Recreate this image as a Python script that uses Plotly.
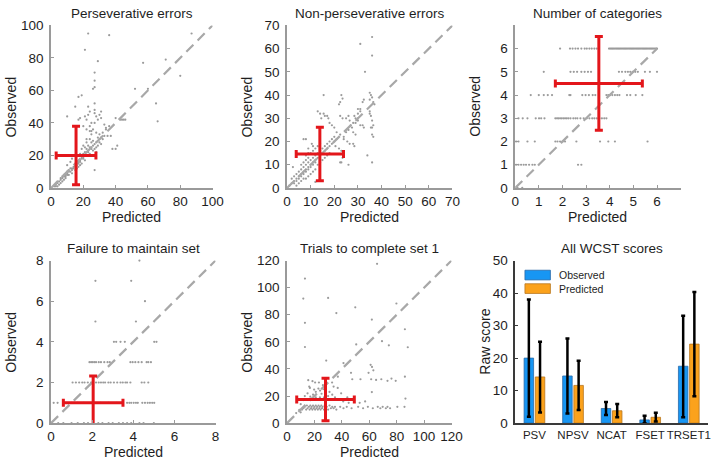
import plotly.graph_objects as go

W, H = 722, 465

# ---------------- data ----------------
titles = ["Perseverative errors", "Non-perseverative errors", "Number of categories",
          "Failure to maintain set", "Trials to complete set 1", "All WCST scores"]

# (predicted, observed) pairs per scatter panel
psv_points = [
    (23, 95), (36, 94), (87, 95), (21, 85), (29, 78), (57, 77), (71, 79), (80, 69), (27, 71), (27, 66),
    (27, 62), (26, 61), (52, 61), (60, 61), (65, 52), (66, 41), (19, 57), (17, 56), (15, 50), (10, 44),
    (23, 50), (27, 52), (18, 43), (17, 42), (21, 44), (23, 45), (24, 47), (27, 48), (27, 46), (28, 44),
    (30, 45), (31, 47), (31, 43), (29, 42), (40, 43), (44, 42), (43, 42), (33, 39), (34, 37), (37, 32),
    (35, 32), (38, 24), (40, 24), (41, 26), (27, 11), (45, 42), (46, 42),
    (20, 38), (22, 36), (24, 35), (25, 33), (26, 36), (28, 34), (29, 31), (30, 33), (31, 31), (32, 30),
    (33, 32), (24, 30), (25, 28), (26, 29), (27, 27), (28, 28), (29, 26), (30, 28), (31, 27), (22, 28),
    (23, 26), (24, 25), (25, 24), (26, 26), (27, 24), (28, 22), (22, 24), (21, 22), (23, 22), (20, 21),
    (22, 20), (24, 21), (19, 19), (20, 18), (21, 17), (18, 17), (17, 16), (16, 15), (18, 14), (19, 15),
    (17, 13), (15, 13), (16, 12), (14, 12), (13, 11), (15, 11), (12, 10), (11, 10), (13, 9), (10, 9),
    (11, 8), (9, 7), (10, 8), (8, 7), (9, 6), (7, 6), (8, 5), (6, 5), (7, 4), (5, 4), (6, 3), (4, 3),
    (5, 2), (3, 2), (4, 1), (2, 1), (3, 1), (12, 12), (14, 13), (16, 14), (18, 16), (20, 19), (10, 10),
    (9, 8), (8, 8), (7, 7), (6, 6), (11, 11), (13, 12), (15, 14), (17, 15), (19, 18), (21, 20), (23, 23),
    (25, 25), (26, 23), (28, 25), (30, 30), (32, 34), (34, 36), (36, 38), (24, 38), (25, 40), (20, 26),
    (19, 24), (18, 21), (21, 25), (22, 30), (12, 16), (13, 18), (14, 20), (10, 14), (25, 35), (27, 40),
    (22, 42),
]

npsv_points = [
    (36, 65), (31, 62), (36, 57), (33, 50), (15.5, 40), (23, 40), (23.5, 38.5), (22.5, 37), (22, 36),
    (35, 41), (35.5, 40), (36, 39), (35, 38), (36.5, 37), (37, 36), (32.5, 38), (32, 37), (31, 34),
    (31, 33), (30, 34), (30, 32), (35, 33), (35, 32), (35.5, 31), (36, 29), (36.5, 27), (36, 26),
    (35.5, 26), (36, 23), (36.5, 22), (13, 33), (14, 32), (15.5, 32), (16, 31), (14.5, 30), (17, 31),
    (17.5, 30), (18, 28), (19, 27), (20, 26), (21, 24), (22.5, 23), (22.5, 31), (23.5, 30), (25, 30),
    (26, 31), (26.5, 29), (28.5, 31), (29, 30), (30, 29), (27.5, 26), (28, 24), (29, 23), (31, 27),
    (32, 27), (32.5, 26), (24, 21), (25.5, 20), (26.5, 19), (28, 19), (28.5, 18), (20.5, 18), (22, 17),
    (23, 16), (23.5, 13), (22.5, 11), (26, 10), (23, 11), (34, 14), (36, 11), (7, 21), (8, 21),
    (10.5, 19), (11, 18), (9, 17), (2.5, 9), (19, 19), (18, 18), (17, 17), (16, 16), (15, 15), (14, 14),
    (13, 13), (12, 12), (11, 11), (10, 10), (9, 9), (8, 8), (7, 7), (6, 6), (5, 5), (4, 4), (3, 3),
    (2, 2), (1, 1), (16, 18), (15, 17), (14, 16), (13, 15), (12, 14), (11, 13), (10, 12), (9, 11),
    (8, 10), (7, 9), (6, 8), (5, 7), (4, 6), (3, 5), (2, 4), (12, 11), (11, 10), (10, 9), (9, 8), (8, 7),
    (7, 6), (6, 5), (5, 4), (4, 3), (3, 2), (17, 19), (18, 20), (19, 21), (20, 22), (21, 21), (20, 20),
    (18, 15), (17, 14), (16, 13), (15, 12), (14, 11), (13, 10), (12, 8), (11, 7), (10, 6), (9, 5),
    (8, 4), (7, 4), (6, 3), (5, 2), (4, 1), (10, 15), (11, 16), (12, 17), (13, 18), (14, 19), (9, 13),
    (8, 12), (7, 11), (6, 10), (8, 14), (9, 15), (12, 2.6), (24, 22), (25, 24), (26, 25), (27, 27),
    (28, 28), (29, 28), (30, 30),
]

ncat_points = [
    # observed 6
    (1.9, 6), (2.32, 6), (2.43, 6), (2.55, 6), (2.66, 6), (2.8, 6), (2.94, 6), (3.03, 6), (3.14, 6),
    (3.24, 6), (3.35, 6), (3.45, 6), (3.97, 6), (4.02, 6), (4.07, 6), (4.12, 6), (4.17, 6), (4.22, 6),
    (4.27, 6), (4.32, 6), (4.37, 6), (4.42, 6), (4.47, 6), (4.52, 6), (4.57, 6), (4.62, 6), (4.67, 6),
    (4.72, 6), (4.77, 6), (4.82, 6), (4.87, 6), (4.92, 6), (4.97, 6), (5.02, 6), (5.07, 6), (5.12, 6),
    (5.17, 6), (5.22, 6), (5.27, 6), (5.32, 6), (5.37, 6), (5.42, 6), (5.47, 6), (5.52, 6), (5.57, 6),
    (5.62, 6), (5.67, 6), (5.72, 6), (5.77, 6), (5.82, 6), (5.87, 6), (5.92, 6), (5.97, 6), (6.0, 6),
    # observed 5
    (1.21, 5), (2.34, 5), (2.48, 5), (2.62, 5), (2.8, 5), (2.94, 5), (3.08, 5), (3.21, 5), (4.39, 5),
    (4.52, 5), (4.66, 5), (4.77, 5), (4.87, 5), (4.97, 5), (5.08, 5), (5.19, 5), (5.49, 5), (5.7, 5),
    (6.0, 5),
    # observed 4
    (0.66, 4), (1.0, 4), (1.21, 4), (1.38, 4), (1.56, 4), (2.29, 4), (2.34, 4), (2.84, 4), (2.98, 4),
    (3.12, 4), (3.28, 4), (3.39, 4), (3.86, 4), (3.94, 4), (4.02, 4), (4.11, 4), (4.22, 4), (4.32, 4),
    (4.41, 4), (4.73, 4), (4.87, 4), (5.1, 4), (5.38, 4),
    # observed 3
    (0.14, 3), (0.32, 3), (0.52, 3), (0.87, 3), (1.01, 3), (1.1, 3), (1.24, 3), (1.7, 3), (1.77, 3),
    (1.83, 3), (1.9, 3), (1.97, 3), (2.04, 3), (2.11, 3), (2.18, 3), (2.25, 3), (2.34, 3), (2.46, 3),
    (2.55, 3), (2.63, 3), (2.76, 3), (2.9, 3), (3.03, 3), (3.14, 3), (3.26, 3), (3.35, 3), (3.45, 3),
    (3.56, 3), (3.67, 3), (3.77, 3), (3.86, 3),
    # observed 2
    (0.04, 2), (0.14, 2), (0.52, 2), (0.83, 2), (1.7, 2), (1.79, 2), (1.9, 2), (2.01, 2), (2.11, 2),
    (2.59, 2), (3.59, 2), (3.94, 2), (4.22, 2), (5.6, 2),
    # observed 1
    (0.04, 1), (0.14, 1), (0.25, 1), (0.36, 1), (0.46, 1), (0.59, 1), (0.73, 1), (0.83, 1), (2.66, 1),
    (2.8, 1),
    # observed 0
    (0.1, 0), (0.3, 0),
]

fset_points = [
    (4.3, 8), (2.16, 7), (3.9, 7), (4.57, 6), (2.16, 5), (4.13, 5),
    (3.06, 4), (3.17, 4), (3.38, 4), (3.59, 4), (5.02, 4), (5.13, 4),
    (1.87, 3), (1.95, 3), (2.03, 3), (2.11, 3), (2.19, 3), (2.32, 3), (2.43, 3), (2.59, 3), (2.75, 3),
    (2.86, 3), (3.86, 3), (3.97, 3), (4.1, 3), (4.25, 3), (4.41, 3), (4.65, 3), (4.73, 3), (4.86, 3),
    (1.05, 2), (1.21, 2), (1.37, 2), (1.52, 2), (1.63, 2), (1.79, 2), (1.95, 2), (2.19, 2), (2.32, 2),
    (2.43, 2), (2.54, 2), (2.63, 2), (2.79, 2), (2.9, 2), (3.06, 2), (3.22, 2), (3.38, 2), (3.49, 2),
    (3.62, 2), (3.7, 2), (3.86, 2), (4.41, 2), (4.54, 2), (4.73, 2),
    (0.13, 1), (0.32, 1), (1.0, 1), (1.3, 1), (1.6, 1), (2.4, 1), (2.8, 1), (3.2, 1), (3.7, 1),
    (3.81, 1), (3.9, 1), (4.02, 1), (4.13, 1), (4.22, 1), (4.44, 1), (4.57, 1), (4.7, 1), (4.81, 1),
    (4.92, 1), (5.02, 1),
    (0.35, 0), (0.6, 0), (1.0, 0), (1.3, 0), (1.6, 0), (1.8, 0), (2.3, 0), (2.5, 0), (2.8, 0),
    (3.0, 0), (3.3, 0), (3.5, 0), (3.7, 0), (3.9, 0), (4.3, 0), (4.5, 0), (5.0, 0),
]

trset_points = [
    (65.7, 117.6), (13.1, 106.7), (11.9, 91.9), (30, 92.4), (49.8, 85.5), (79.8, 88.3), (36, 81.2),
    (61.9, 76.4), (13.1, 74), (86, 69.3), (69.3, 60.5), (50.5, 58.1), (74.3, 57.4), (88.1, 56),
    (13.1, 56.2), (28.6, 46.2), (41.2, 44.3), (61, 43), (62, 41.5), (63, 39), (46.7, 37.1),
    (59.5, 37.1), (37.1, 34.3), (32.9, 30), (47.6, 32.4), (53.6, 32.4), (61.4, 32.4), (65, 31.9),
    (68.8, 32.4), (73.3, 31.2), (76.2, 32.9), (79.3, 31.2), (86, 34.3), (61.9, 22.9), (86.4, 18.1),
    (39.5, 22), (15.5, 31.7),
    (18.6, 31), (20.5, 30), (16.2, 27), (16.7, 26), (19.8, 24.8), (21, 23.1), (22.9, 25.5), (24.1, 24),
    (25.2, 21.7), (23.3, 30), (26.2, 28), (27, 25), (28, 29), (13, 20), (15, 22), (17, 19.5), (19, 21),
    (21, 19), (24, 19), (27, 19), (30, 20), (33, 21), (35, 19), (31, 23), (34, 27), (37, 26), (44, 19),
    (49, 17), (53, 15), (45, 15), (41, 16), (57, 16), (10, 14), (12, 17),
    (12, 11), (13, 12), (14, 10), (14.5, 13), (15, 11), (16, 12), (16.5, 10), (17, 13), (17.5, 11),
    (18, 12), (18.5, 10), (19, 13), (19.5, 11), (20, 12), (20.5, 10), (21, 13), (21.5, 11), (22, 12),
    (22.5, 10), (23, 13), (23.5, 11), (24, 12), (24.5, 10), (25, 13), (25.5, 11), (26, 12), (27, 10),
    (27.5, 13), (28, 11), (29, 12), (30, 10), (31, 13), (32, 11), (33, 12), (34, 11), (35, 12),
    (36, 10), (38.8, 12), (41.2, 11), (43.6, 12), (47.1, 11), (51.9, 12), (55.5, 11), (59, 12),
    (62.6, 11), (66.2, 12), (68.1, 11), (69.8, 12), (72.1, 11), (73.3, 12), (75.2, 11), (80.5, 12),
    (85.7, 12), (6.7, 7.4), (9, 9.8), (10, 8), (11, 10),
]

scatter_sets = [psv_points, npsv_points, ncat_points, fset_points, trset_points]

# red cross: mean +/- SD of predicted (x) and observed (y)
cross_pred_mean = [15.5, 13.9, 3.54, 2.05, 28.1]
cross_pred_sd = [12.3, 10.0, 1.84, 1.45, 21.0]
cross_obs_mean = [20.0, 14.6, 4.5, 1.0, 17.4]
cross_obs_sd = [18.0, 11.5, 2.02, 1.32, 15.7]

# axis limits, tick values, identity-line extent
axis_max = [100, 70, 7, 8, 120]
tick_vals = [
    [0, 20, 40, 60, 80, 100],
    [0, 10, 20, 30, 40, 50, 60, 70],
    [0, 1, 2, 3, 4, 5, 6],
    [0, 2, 4, 6, 8],
    [0, 20, 40, 60, 80, 100, 120],
]
diag_max = [100, 70, 6, 8, 120]

# bar chart
bar_categories = ["PSV", "NPSV", "NCAT", "FSET", "TRSET1"]
observed_mean = [20.0, 14.5, 4.5, 1.0, 17.5]
observed_err_up = [18.0, 11.5, 2.0, 1.3, 15.5]
observed_err_down = [18.0, 11.5, 2.0, 1.0, 15.7]
predicted_mean = [14.2, 11.6, 3.8, 1.8, 24.3]
predicted_err_up = [10.8, 7.6, 2.1, 1.4, 16.0]
predicted_err_down = [10.9, 7.6, 2.0, 1.3, 16.0]
bar_ticks = [0, 10, 20, 30, 40, 50]

# ---------------- layout geometry (pixels) ----------------
panel_px = [  # x0, x1, ytop, ybottom
    (48, 213, 19, 187),
    (289, 458, 19, 187),
    (522, 691, 19, 187),
    (48, 216, 262, 430),
    (289, 457, 262, 430),
    (522, 719, 262, 430),
]

FONT = "Liberation Sans, Arial, Helvetica, sans-serif"
TXT = "#1e1e1e"
GRAY_AX = "#9a9a9a"
PT_COL = "#9b9b9b"
RED = "#e3161b"
BLUE = "#1796f3"
BLUE_EDGE = "#2a6aa8"
ORANGE = "#fba21c"
ORANGE_EDGE = "#b8761f"
TICK_SIZE = 13.5
BAR_TICK_SIZE = 11.5
LABEL_SIZE = 14
TITLE_SIZE = 13.5


def px(x):
    return x / W


def py(y):
    return 1 - y / H


fig = go.Figure()
layout = dict(
    width=W, height=H,
    margin=dict(l=0, r=0, t=0, b=0),
    paper_bgcolor="white", plot_bgcolor="white",
    showlegend=False,
    font=dict(family=FONT, size=12, color=TXT),
    barmode="group", bargap=0.42, bargroupgap=0.15,
)
annotations = []
shapes = []

for i in range(6):
    x0, x1, yt, yb = panel_px[i]
    n = i + 1
    xa = "xaxis" if n == 1 else f"xaxis{n}"
    ya = "yaxis" if n == 1 else f"yaxis{n}"
    xr = "x" if n == 1 else f"x{n}"
    yr = "y" if n == 1 else f"y{n}"
    common = dict(showgrid=False, zeroline=False, showline=True, linewidth=1.5,
                  ticks="inside", ticklen=3, tickwidth=1,
                  tickfont=dict(family=FONT, size=TICK_SIZE, color=TXT))
    if i < 5:
        lim = axis_max[i]
        layout[xa] = dict(domain=[px(x0), px(x1)], anchor=yr, range=[0, lim], ticklabelstandoff=0,
                          tickvals=tick_vals[i], linecolor=GRAY_AX, tickcolor=GRAY_AX, **common)
        layout[ya] = dict(domain=[py(yb), py(yt)], anchor=xr, range=[0, lim], ticklabelstandoff=3,
                          tickvals=tick_vals[i], linecolor=GRAY_AX, tickcolor=GRAY_AX, **common)
        pts = scatter_sets[i]
        fig.add_trace(go.Scatter(
            x=[p[0] for p in pts], y=[p[1] for p in pts], mode="markers",
            marker=dict(size=2.2, color=PT_COL), xaxis=xr, yaxis=yr, cliponaxis=False,
            hoverinfo="skip"))
        fig.add_trace(go.Scatter(
            x=[0, diag_max[i]], y=[0, diag_max[i]], mode="lines",
            line=dict(color="#a8a8a8", width=2.2, dash="10px,6px"), xaxis=xr, yaxis=yr,
            hoverinfo="skip"))
        fig.add_trace(go.Scatter(
            x=[cross_pred_mean[i]], y=[cross_obs_mean[i]], mode="markers",
            marker=dict(size=1, color=RED),
            error_x=dict(type="data", array=[cross_pred_sd[i]], color=RED, thickness=3, width=4),
            error_y=dict(type="data", array=[cross_obs_sd[i]], color=RED, thickness=3, width=4),
            xaxis=xr, yaxis=yr, hoverinfo="skip"))
        # axis titles
        annotations.append(dict(text="Predicted", x=px((x0 + x1) / 2), y=py(yb + 30),
                                xref="paper", yref="paper", showarrow=False,
                                font=dict(size=LABEL_SIZE, color=TXT, family=FONT),
                                xanchor="center", yanchor="middle"))
        annotations.append(dict(text="Observed", x=px(x0 - 41), y=py((yt + yb) / 2),
                                xref="paper", yref="paper", showarrow=False, textangle=-90,
                                font=dict(size=LABEL_SIZE, color=TXT, family=FONT),
                                xanchor="center", yanchor="middle"))
    else:
        layout[xa] = dict(domain=[px(x0), px(x1)], anchor=yr, range=[-0.5, 4.5], tickangle=0,
                          ticklabelstandoff=0, linecolor="#3a3a3a", tickcolor="#3a3a3a",
                          **{**common, "ticks": "",
                             "tickfont": dict(family=FONT, size=BAR_TICK_SIZE, color=TXT)})
        layout[ya] = dict(domain=[py(yb), py(yt)], anchor=xr, range=[0, 50], ticklabelstandoff=3,
                          tickvals=bar_ticks, linecolor="#3a3a3a", tickcolor="#3a3a3a", **common)
        fig.add_trace(go.Bar(
            x=bar_categories, y=observed_mean, name="Observed",
            marker=dict(color=BLUE, line=dict(color=BLUE_EDGE, width=0.8)),
            error_y=dict(type="data", array=observed_err_up, arrayminus=observed_err_down,
                         color="black", thickness=2.5, width=2),
            xaxis=xr, yaxis=yr, hoverinfo="skip"))
        fig.add_trace(go.Bar(
            x=bar_categories, y=predicted_mean, name="Predicted",
            marker=dict(color=ORANGE, line=dict(color=ORANGE_EDGE, width=0.8)),
            error_y=dict(type="data", array=predicted_err_up, arrayminus=predicted_err_down,
                         color="black", thickness=2.5, width=2),
            xaxis=xr, yaxis=yr, hoverinfo="skip"))
        annotations.append(dict(text="Raw score", x=px(x0 - 31), y=py((yt + yb) / 2),
                                xref="paper", yref="paper", showarrow=False, textangle=-90,
                                font=dict(size=LABEL_SIZE, color=TXT, family=FONT),
                                xanchor="center", yanchor="middle"))
        # legend drawn by hand (wide swatches as in the reference)
        for k, (lab, fc, ec) in enumerate([("Observed", BLUE, BLUE_EDGE),
                                           ("Predicted", ORANGE, ORANGE_EDGE)]):
            cy = 277 + 14 * k
            shapes.append(dict(type="rect", xref="paper", yref="paper",
                               x0=px(532), x1=px(558), y0=py(cy + 5), y1=py(cy - 5),
                               fillcolor=fc, line=dict(color=ec, width=0.8)))
            annotations.append(dict(text=lab, x=px(565), y=py(cy), xref="paper", yref="paper",
                                    showarrow=False, xanchor="left", yanchor="middle",
                                    font=dict(size=10.5, color=TXT, family=FONT)))
    # subplot title
    annotations.append(dict(text=titles[i], x=px((x0 + x1) / 2), y=py(yt - 12),
                            xref="paper", yref="paper", showarrow=False,
                            font=dict(size=TITLE_SIZE, color=TXT, family=FONT),
                            xanchor="center", yanchor="middle"))

layout["annotations"] = annotations
layout["shapes"] = shapes
fig.update_layout(**layout)
fig.write_html("out.html", config={"displayModeBar": False},
               post_script="document.body.style.margin='0';document.body.style.overflow='hidden';")
